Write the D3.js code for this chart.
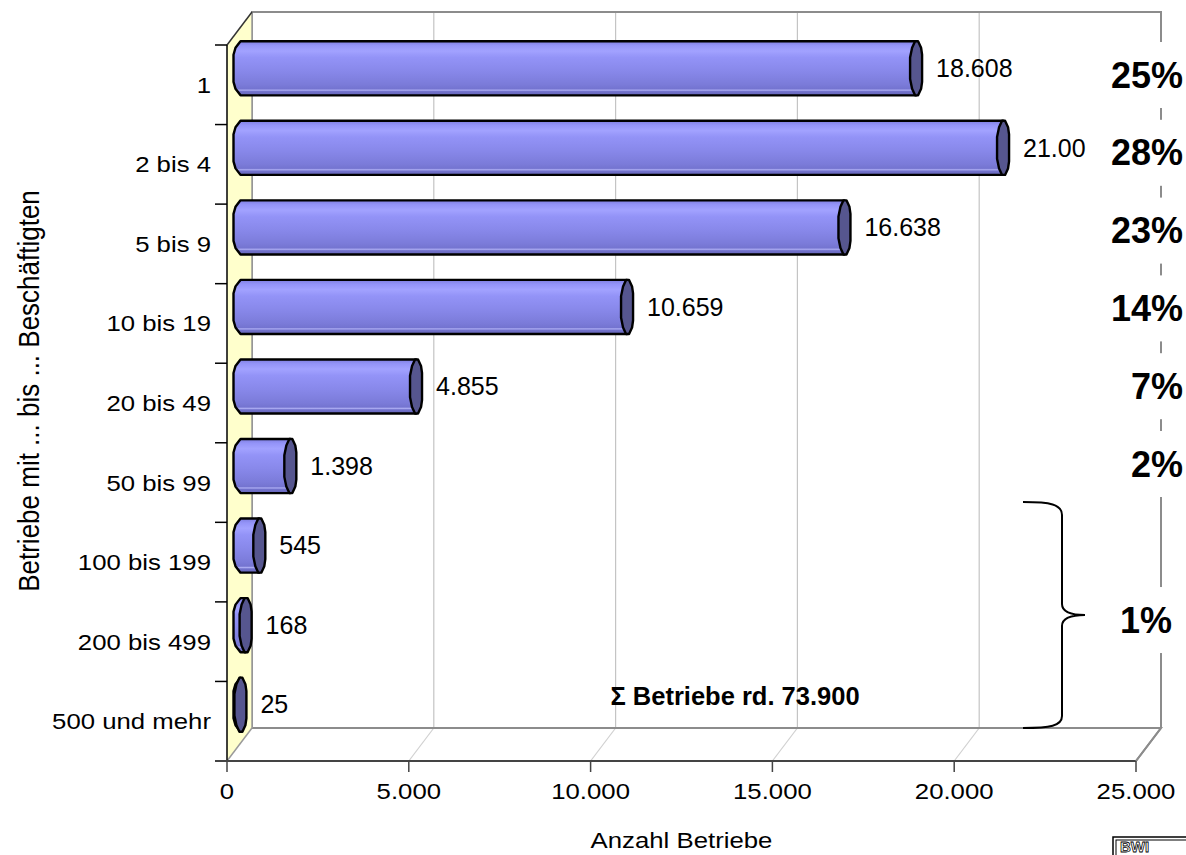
<!DOCTYPE html>
<html><head><meta charset="utf-8">
<script src="https://cdn.jsdelivr.net/npm/d3@7"></script>
<style>body{margin:0;background:#fff} text{font-family:"Liberation Sans",Arial,Helvetica,sans-serif;fill:#000}</style>
</head><body><svg id="c" width="1186" height="855"></svg>
<script>
const categories = ["1","2 bis 4","5 bis 9","10 bis 19","20 bis 49","50 bis 99","100 bis 199","200 bis 499","500 und mehr"];
const values = [18608,21000,16638,10659,4855,1398,545,168,25];
const valueLabels = ["18.608","21.00","16.638","10.659","4.855","1.398","545","168","25"];
const percentLabels = ["25%","28%","23%","14%","7%","2%"];
const groupedPercent = "1%";
const xTicks = [0,5000,10000,15000,20000,25000];
const totalLabel = "\u03A3  Betriebe rd. 73.900";
const xTitle = "Anzahl Betriebe";
const yTitle = "Betriebe mit ... bis ... Beschäftigten";

const svg = d3.select("#c");
const DX = 25, DY = 33, SX = 1.12;
const fmt = d3.formatLocale({decimal:",",thousands:".",grouping:[3],currency:["","€"]}).format(",");
const x = d3.scaleLinear().domain([0,25000]).range([227,1136]);
const y = d3.scaleBand().domain(categories).range([45,761]).paddingInner(0.32).paddingOuter(0.16);
const step = y.step(), bw = y.bandwidth();
const top0 = 45, bot0 = 761;
const backTop = top0 - DY, backBot = bot0 - DY;
const xL = x.range()[0], xR = x.range()[1];

function txt(px, py, s, size, anchor, sx, weight){
  return svg.append("text").attr("transform",`translate(${px},${py}) scale(${sx||1},1)`)
    .attr("dy","0.35em").attr("text-anchor",anchor||"start").attr("font-size",size)
    .attr("font-weight",weight||"normal").text(s);
}

// defs
const defs = svg.append("defs");
const g = defs.append("linearGradient").attr("id","barg").attr("x1",0).attr("y1",0).attr("x2",0).attr("y2",1);
[[0,"#7e7ee0"],[0.08,"#9494f8"],[0.18,"#a2a2ff"],[0.3,"#9393f7"],[0.55,"#8888ea"],[0.8,"#7b7bd9"],[0.88,"#7474d0"],[0.905,"#ababf2"],[0.93,"#7272cc"],[1,"#6666b8"]]
 .forEach(([o,c])=>g.append("stop").attr("offset",o).attr("stop-color",c));

// back wall
svg.append("rect").attr("x",xL+DX).attr("y",backTop).attr("width",xR-xL).attr("height",backBot-backTop).attr("fill","#fff");
xTicks.slice(1,-1).forEach(t=>{
  svg.append("line").attr("x1",x(t)+DX).attr("x2",x(t)+DX).attr("y1",backTop).attr("y2",backBot).attr("stroke","#c4c4c4").attr("stroke-width",1.2);
  svg.append("line").attr("x1",x(t)+DX).attr("x2",x(t)).attr("y1",backBot).attr("y2",bot0).attr("stroke","#d0d0d0").attr("stroke-width",1.2);
});
svg.append("path").attr("d",`M${xL+DX},${backBot}L${xL+DX},${backTop}L${xR+DX},${backTop}L${xR+DX},${backBot}`).attr("fill","none").attr("stroke","#8c8c8c").attr("stroke-width",2);
svg.append("path").attr("d",`M${xL+DX},${backBot}L${xR+DX},${backBot}L${xR},${bot0}`).attr("fill","none").attr("stroke","#8c8c8c").attr("stroke-width",2);
// left wall
svg.append("path").attr("d",`M${xL},${top0}L${xL+DX},${backTop}L${xL+DX},${backBot}L${xL},${bot0}Z`).attr("fill","#ffffcc").attr("stroke","none");
svg.append("line").attr("x1",xL+DX).attr("x2",xL+DX).attr("y1",backTop).attr("y2",backBot).attr("stroke","#9a9a9a").attr("stroke-width",1.5);
svg.append("line").attr("x1",xL).attr("x2",xL+DX).attr("y1",bot0).attr("y2",backBot).attr("stroke","#9a9a9a").attr("stroke-width",1.5);
svg.append("line").attr("x1",xL).attr("x2",xL+DX).attr("y1",top0).attr("y2",backTop).attr("stroke","#333").attr("stroke-width",1.5);

// bars
const x0 = x(0) + DX/2;
categories.forEach((c,i)=>{
  const cy = y(c) + bw/2 - DY/2;
  const t = cy - bw/2, b = cy + bw/2, h = bw;
  const xv = x(values[i]) + DX/2;
  const body = `M${x0+1},${t}L${xv},${t}L${xv},${b}L${x0+1},${b}L${x0-4},${b-0.12*h}L${x0-6},${b-0.25*h}L${x0-6},${t+0.25*h}L${x0-4},${t+0.12*h}Z`;
  svg.append("path").attr("d",body).attr("fill","url(#barg)").attr("stroke","#000").attr("stroke-width",2.4).attr("stroke-linejoin","round");
  const cap = `M${xv-1},${t}L${xv+2},${t}L${xv+5},${t+0.12*h}L${xv+6},${t+0.25*h}L${xv+6},${b-0.25*h}L${xv+5},${b-0.12*h}L${xv+2},${b}L${xv-1},${b}L${xv-4},${b-0.12*h}L${xv-6},${b-0.3*h}L${xv-6},${t+0.3*h}L${xv-4},${t+0.12*h}Z`;
  svg.append("path").attr("d",cap).attr("fill","#56568f").attr("stroke","#000").attr("stroke-width",2.4).attr("stroke-linejoin","round");
  txt(xv+20, cy, valueLabels[i], 25, "start");
});

// axes
svg.append("line").attr("x1",xL).attr("x2",xL).attr("y1",top0).attr("y2",bot0).attr("stroke","#000").attr("stroke-width",1.5);
d3.range(categories.length+1).forEach(k=>{
  const yy = top0 + k*step;
  svg.append("line").attr("x1",xL-12).attr("x2",xL).attr("y1",yy).attr("y2",yy).attr("stroke","#000").attr("stroke-width",1.5);
});
svg.append("line").attr("x1",xL-12).attr("x2",xR).attr("y1",bot0).attr("y2",bot0).attr("stroke","#444").attr("stroke-width",2);
svg.append("line").attr("x1",xR).attr("x2",xR+DX).attr("y1",bot0).attr("y2",backBot).attr("stroke","#8c8c8c").attr("stroke-width",2);
xTicks.forEach(t=>{
  svg.append("line").attr("x1",x(t)).attr("x2",x(t)).attr("y1",bot0).attr("y2",bot0+11).attr("stroke","#444").attr("stroke-width",1.5);
  txt(x(t), bot0+30, fmt(t), 23, "middle", SX);
});
categories.forEach(c=>{ txt(211, y(c)+bw/2, c, 23, "end", SX); });
txt((xL+xR)/2, 840, xTitle, 23, "middle", SX);
svg.append("text").attr("transform","translate(29,391) rotate(-90) scale(1,1.12)").attr("dy","0.35em").attr("text-anchor","middle").attr("font-size",26).text(yTitle);

// percent labels
const py = d3.scaleLinear().domain([0,5]).range([75,464]);
percentLabels.forEach((p,i)=>{
  svg.append("rect").attr("x",1100).attr("y",py(i)-33).attr("width",86).attr("height",66).attr("fill","#fff");
  txt(1183, py(i), p, 36, "end", 1, "bold");
});
const bTop = y(categories[6]) - DY, bBot = backBot, bMid = (bTop+bBot)/2;
svg.append("rect").attr("x",1100).attr("y",bMid+5-33).attr("width",86).attr("height",66).attr("fill","#fff");
txt(1172, bMid+5, groupedPercent, 36, "end", 1, "bold");
// brace
const bx0 = 1023, bx1 = 1062, bx2 = 1085;
svg.append("path").attr("d",`M${bx0},${bTop}C${bx0+27},${bTop} ${bx1},${bTop+2} ${bx1},${bTop+13}L${bx1},${bMid-11}C${bx1},${bMid-3} ${bx1+8},${bMid} ${bx2},${bMid}C${bx1+8},${bMid} ${bx1},${bMid+3} ${bx1},${bMid+11}L${bx1},${bBot-12}C${bx1},${bBot-2} ${bx0+27},${bBot} ${bx0},${bBot}`)
  .attr("fill","none").attr("stroke","#000").attr("stroke-width",2);
// total
txt(735, 696, totalLabel, 25.5, "middle", 1, "bold");
// logo
svg.append("rect").attr("x",1113).attr("y",837).attr("width",90).attr("height",30).attr("fill","none").attr("stroke","#000").attr("stroke-width",1.5);
svg.append("rect").attr("x",1116).attr("y",840).attr("width",90).attr("height",30).attr("fill","none").attr("stroke","#000").attr("stroke-width",1);
svg.append("text").attr("x",1120).attr("y",852).attr("font-size",15).attr("font-weight","bold").attr("stroke","#000").attr("stroke-width",0.8).style("fill","#fff").text("BWI");
</script></body></html>
